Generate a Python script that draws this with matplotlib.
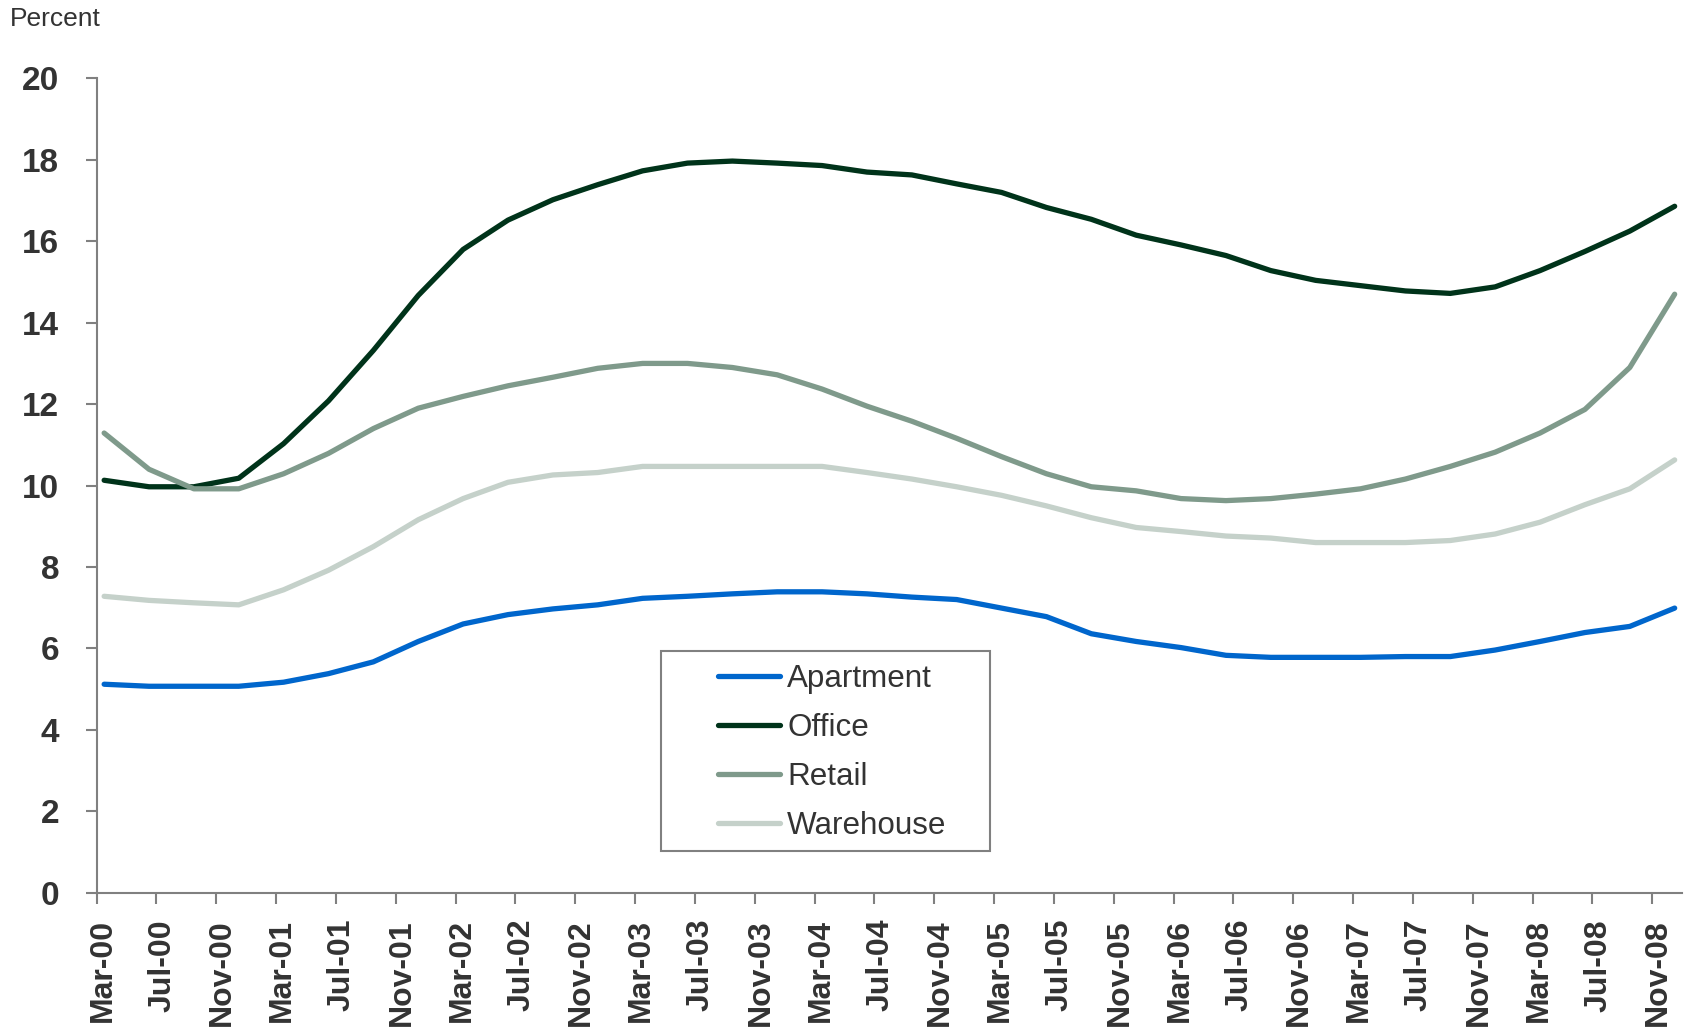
import numpy as np
import matplotlib.pyplot as plt
import matplotlib.transforms as mtrans
from matplotlib.patches import Rectangle

plt.rcParams['font.family'] = ['Liberation Sans', 'DejaVu Sans']

# quarterly values, Mar-00 .. Dec-08
apartment = [5.12, 5.07, 5.07, 5.07, 5.17, 5.38, 5.67, 6.17, 6.60, 6.83, 6.97, 7.07,
             7.23, 7.28, 7.34, 7.39, 7.39, 7.34, 7.26, 7.20, 6.99, 6.78, 6.36, 6.17,
             6.02, 5.83, 5.78, 5.78, 5.78, 5.80, 5.80, 5.96, 6.17, 6.39, 6.54, 6.99]
office = [10.13, 9.97, 9.97, 10.18, 11.03, 12.08, 13.32, 14.67, 15.80, 16.52, 17.02, 17.39,
          17.73, 17.92, 17.97, 17.92, 17.86, 17.70, 17.63, 17.41, 17.20, 16.83, 16.54, 16.15,
          15.91, 15.65, 15.28, 15.04, 14.91, 14.78, 14.72, 14.88, 15.28, 15.75, 16.25, 16.86]
retail = [11.29, 10.40, 9.92, 9.92, 10.29, 10.79, 11.40, 11.90, 12.19, 12.45, 12.66, 12.88,
          13.00, 13.00, 12.90, 12.72, 12.37, 11.95, 11.58, 11.16, 10.71, 10.29, 9.97, 9.87,
          9.68, 9.63, 9.68, 9.79, 9.92, 10.16, 10.47, 10.82, 11.29, 11.87, 12.90, 14.70]
warehouse = [7.28, 7.18, 7.12, 7.07, 7.44, 7.92, 8.50, 9.16, 9.68, 10.08, 10.26, 10.32,
             10.47, 10.47, 10.47, 10.47, 10.47, 10.32, 10.16, 9.97, 9.76, 9.50, 9.21, 8.97,
             8.87, 8.76, 8.71, 8.60, 8.60, 8.60, 8.65, 8.81, 9.10, 9.53, 9.92, 10.63]

tick_labels = []
for yr in range(0, 9):
    for m in ['Mar', 'Jul', 'Nov']:
        tick_labels.append(f'{m}-{yr:02d}')

# months since Mar-00, points sit mid-month
months = np.arange(len(apartment)) * 3 + 0.5
tick_pos = np.arange(len(tick_labels)) * 4

fig = plt.figure(figsize=(16.84, 10.32), dpi=100)
ax = fig.add_axes([0.0574, 0.135, 0.9415, 0.789])

lw = 3.8
ax.plot(months, apartment, color='#0066CC', lw=lw, label='Apartment', solid_capstyle='round')
ax.plot(months, office, color='#00331A', lw=lw, label='Office', solid_capstyle='round')
ax.plot(months, retail, color='#7F9A8B', lw=lw, label='Retail', solid_capstyle='round')
ax.plot(months, warehouse, color='#C5D1CA', lw=lw, label='Warehouse', solid_capstyle='round')

ax.set_xlim(0, 106)
ax.set_ylim(0, 20)
ax.set_yticks(range(0, 21, 2))
ax.set_xticks(tick_pos)
ax.set_xticklabels(tick_labels, rotation=90)

for s in ['top', 'right']:
    ax.spines[s].set_visible(False)
for s in ['left', 'bottom']:
    ax.spines[s].set_color('#808080')
    ax.spines[s].set_linewidth(1.5)
ax.tick_params(axis='both', colors='#808080', width=1.5, length=7.9, labelcolor='#333333')
ax.tick_params(axis='y', labelsize=24, pad=19)
ax.tick_params(axis='x', labelsize=23, pad=11)
shift = mtrans.ScaledTranslation(0.06, 0, fig.dpi_scale_trans)
for t in ax.get_xticklabels():
    t.set_fontweight('bold')
    t.set_transform(t.get_transform() + shift)
for t in ax.get_yticklabels():
    t.set_fontweight('bold')

fig.text(0.006, 0.993, 'Percent', fontsize=19, color='#333333', va='top')

# legend box drawn separately, handles sit well inside it
ax.add_patch(Rectangle((0.3557, 0.051), 0.208, 0.2457, transform=ax.transAxes,
                       fill=False, edgecolor='#808080', lw=1.5, zorder=5))
leg = ax.legend(loc='upper left', bbox_to_anchor=(0.3916, 0.2805), fontsize=22.6,
                frameon=False, handlelength=1.98, handletextpad=0.24,
                labelspacing=0.6, borderpad=0, borderaxespad=0)
for t in leg.get_texts():
    t.set_color('#333333')

fig.savefig('out.png', dpi=100)
